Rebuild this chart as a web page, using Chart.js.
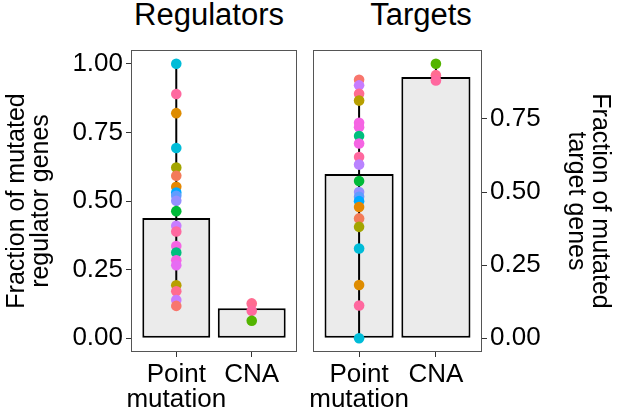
<!DOCTYPE html>
<html><head><meta charset="utf-8">
<script src="https://cdn.jsdelivr.net/npm/chart.js@4"></script>
<style>
html,body{margin:0;padding:0;background:#fff;}
body{width:617px;height:416px;position:relative;overflow:hidden;font-family:"Liberation Sans",Arial,sans-serif;}
.title{position:absolute;top:-2px;font-size:31px;line-height:34px;color:#000;white-space:nowrap;transform:translateX(-50%);}
canvas{position:absolute;top:0;}
</style></head><body>
<div class="title" style="left:209px">Regulators</div>
<div class="title" style="left:421px">Targets</div>
<canvas id="c1" width="305" height="416" style="left:0;width:305px;height:416px"></canvas>
<canvas id="c2" width="312" height="416" style="left:305px;width:312px;height:416px"></canvas>
<script>
const categories = ['Point mutation', 'CNA'];
const categoryLabels = [['Point', 'mutation'], ['CNA']];
const panelTitles = ['Regulators', 'Targets'];

const regBarValues = [0.438, 0.109];
const regPointValues = [1.00, 0.89, 0.82, 0.693, 0.622, 0.592, 0.552, 0.531, 0.519, 0.501, 0.463, 0.410, 0.389, 0.336, 0.312, 0.284, 0.266, 0.193, 0.171, 0.139, 0.118];
const regPointColors = ['#00BCD8','#FF689F','#DE8C00','#00BCD8','#A3A500','#F37B59','#E58700','#00A9FF','#619CFF','#9590FF','#00BA38','#C77CFF','#FF689F','#F564E3','#00BF7D','#F564E3','#E76BF3','#B79F00','#FF6C91','#C77CFF','#F8766D'];
const regCnaValues = [0.127, 0.100, 0.064];
const regCnaColors = ['#FF6C91','#FF689F','#53B400'];

const tgtBarValues = [0.562, 0.894];
const tgtPointValues = [0.884, 0.865, 0.836, 0.813, 0.737, 0.722, 0.692, 0.666, 0.620, 0.594, 0.538, 0.500, 0.484, 0.469, 0.449, 0.410, 0.381, 0.307, 0.182, 0.112, 0.0];
const tgtPointColors = ['#F8766D','#C77CFF','#FF6C91','#B79F00','#F564E3','#F564E3','#00BF7D','#F564E3','#FF689F','#B983FF','#00BA38','#9590FF','#619CFF','#00A9FF','#E58700','#F37B59','#A3A500','#00BCD8','#DE8C00','#FF689F','#00BCD8'];
const tgtCnaValues = [0.939, 0.900, 0.882];
const tgtCnaColors = ['#53B400','#FF6C91','#FF689F'];

const regYTicks = [0, 0.25, 0.5, 0.75, 1.0];
const tgtYTicks = [0, 0.25, 0.5, 0.75];

const FONT = '"Liberation Sans", Arial, sans-serif';

const framePlugin = {
  id: 'frame',
  beforeDatasetsDraw(chart) {
    const {ctx, chartArea: a} = chart;
    ctx.save();
    ctx.strokeStyle = '#555';
    ctx.lineWidth = 1;
    ctx.strokeRect(a.left + 0.5, a.top + 0.5, a.right - a.left - 1, a.bottom - a.top - 1);
    ctx.restore();
  }
};

function pts(xv, vals) { return vals.map(v => ({x: xv, y: v})); }
function linePts(xv, vals) { return [...vals].sort((a, b) => a - b).map(v => ({x: xv, y: v})); }

function makeChart(id, bars, pVals, pCols, cVals, cCols, yTicks, yMin, yMax, yPos, yTitle, pad, yWidth) {
  return new Chart(document.getElementById(id), {
    type: 'scatter',
    data: {
      datasets: [
        {type: 'bar', data: bars.map((v, i) => ({x: i + 1, y: v})), backgroundColor: '#EBEBEB', borderColor: '#000', borderWidth: 2, borderSkipped: false, barPercentage: 0.9, categoryPercentage: 1, order: 3},
        {type: 'line', data: linePts(1, pVals), borderColor: '#000', borderWidth: 2, pointRadius: 0, order: 2},
        {type: 'line', data: linePts(2, cVals), borderColor: '#000', borderWidth: 2, pointRadius: 0, order: 2},
        {type: 'scatter', data: pts(1, pVals), pointBackgroundColor: pCols, pointBorderWidth: 0, pointRadius: 5.3, order: 1},
        {type: 'scatter', data: pts(2, cVals), pointBackgroundColor: cCols, pointBorderWidth: 0, pointRadius: 5.3, order: 1}
      ]
    },
    options: {
      responsive: false,
      animation: false,
      devicePixelRatio: 1,
      layout: {padding: pad},
      plugins: {legend: {display: false}, tooltip: {enabled: false}, title: {display: false}},
      scales: {
        x: {
          type: 'linear', min: 0.4, max: 2.6, offset: false,
          afterBuildTicks: s => { s.ticks = [{value: 1}, {value: 2}]; },
          afterFit: s => { s.height = 64; s.paddingLeft = 0; s.paddingRight = 0; },
          grid: {drawOnChartArea: false, drawTicks: true, tickLength: 5, color: '#333', offset: false},
          border: {display: false},
          ticks: {callback: (v, i) => categoryLabels[i], font: {family: FONT, size: 26, lineHeight: 0.96}, color: '#000', padding: 5, maxRotation: 0, autoSkip: false}
        },
        y: {
          type: 'linear', position: yPos, min: yMin, max: yMax,
          afterBuildTicks: s => { s.ticks = yTicks.map(v => ({value: v})); },
          afterFit: s => { s.width = yWidth; },
          grid: {drawOnChartArea: false, drawTicks: true, tickLength: 5, color: '#333'},
          border: {display: false},
          ticks: {callback: v => v.toFixed(2), font: {family: FONT, size: 26}, color: '#000', padding: 3},
          title: {display: true, text: yTitle, font: {family: FONT, size: 25, lineHeight: 0.96}, color: '#000', padding: {top: 5.5, bottom: 0}}
        }
      }
    },
    plugins: [framePlugin]
  });
}

makeChart('c1', regBarValues, regPointValues, regPointColors, regCnaValues, regCnaColors, regYTicks, -0.05, 1.05, 'left', ['Fraction of mutated', 'regulator genes'], {top: 50, right: 8, left: 0, bottom: 0}, 131);
makeChart('c2', tgtBarValues, tgtPointValues, tgtPointColors, tgtCnaValues, tgtCnaColors, tgtYTicks, -0.047, 0.986, 'right', ['Fraction of mutated', 'target genes'], {top: 50, right: 0, left: 8, bottom: 0}, 135);
</script>
</body></html>
